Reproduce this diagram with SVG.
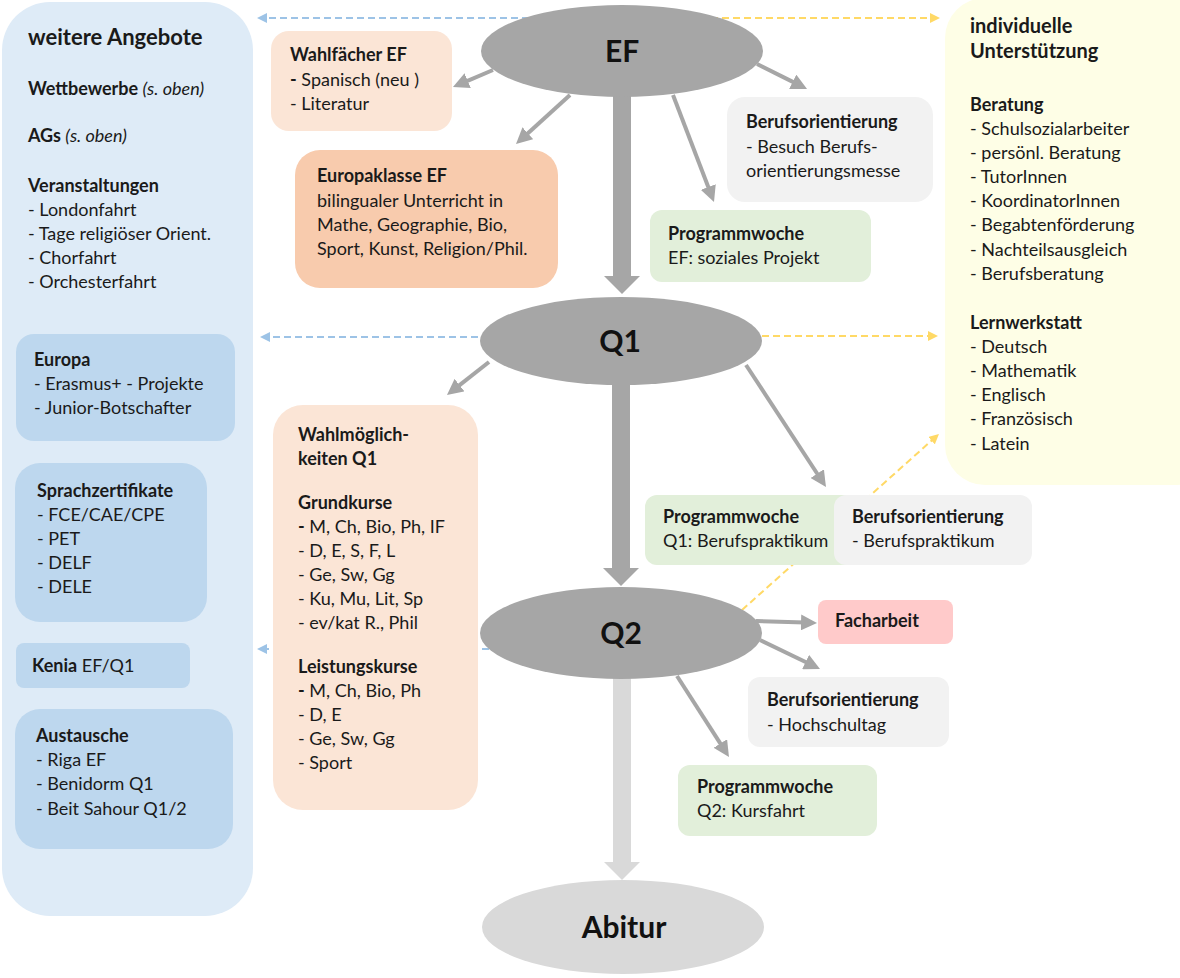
<svg xmlns="http://www.w3.org/2000/svg" width="1180" height="978" viewBox="0 0 1180 978">
<defs>
<style>
text{font-family:"Lato","Noto Sans","Liberation Sans",sans-serif;font-size:18px;fill:#1a1a1a}
.b{font-weight:bold}
.i{font-style:italic;font-weight:normal}
.h{font-size:22px;font-weight:bold}
.h2{font-size:20px;font-weight:bold}
.big{font-size:30px;font-weight:bold;fill:#111}
.thin{stroke:#a6a6a6;stroke-width:4;fill:none;marker-end:url(#ah)}
.blue{stroke:#9dc3e6;stroke-width:2;stroke-dasharray:7 4;fill:none;marker-end:url(#ahb)}
.yel{stroke:#ffd966;stroke-width:2;stroke-dasharray:7 4;fill:none;marker-end:url(#ahy)}
.peach{fill:#fbe5d6}
.grey{fill:#f2f2f2}
.green{fill:#e2efda}
.sub{fill:#bdd7ee}
</style>
<marker id="ah" markerUnits="userSpaceOnUse" markerWidth="16" markerHeight="16" refX="4" refY="8" orient="auto"><path d="M0,0 L16,8 L0,16 z" fill="#a6a6a6"/></marker>
<marker id="ahb" markerUnits="userSpaceOnUse" markerWidth="10" markerHeight="10" refX="2" refY="5" orient="auto"><path d="M0,0 L10,5 L0,10 z" fill="#9dc3e6"/></marker>
<marker id="ahy" markerUnits="userSpaceOnUse" markerWidth="10" markerHeight="10" refX="2" refY="5" orient="auto"><path d="M0,0 L10,5 L0,10 z" fill="#ffd966"/></marker>
</defs>
<rect width="1180" height="978" fill="#fff"/>

<g id="weitere-angebote">
<rect x="2" y="2" width="251" height="914" rx="48" fill="#deebf7"/>
<text x="28" y="45" class="h">weitere Angebote</text>
<text x="28" y="95" class="b">Wettbewerbe <tspan class="i">(s. oben)</tspan></text>
<text x="28" y="142" class="b">AGs <tspan class="i">(s. oben)</tspan></text>
<text x="28" y="192" class="b">Veranstaltungen</text>
<text x="28" y="216">- Londonfahrt</text>
<text x="28" y="240">- Tage religiöser Orient.</text>
<text x="28" y="264">- Chorfahrt</text>
<text x="28" y="288">- Orchesterfahrt</text>
</g>

<g id="individuelle-unterstuetzung">
<rect x="945" y="-2" width="270" height="487" rx="40" fill="#fefee6"/>
<text x="970" y="33" class="h2">individuelle</text>
<text x="970" y="58" class="h2">Unterstützung</text>
<text x="970" y="111" class="b">Beratung</text>
<text x="970" y="135">- Schulsozialarbeiter</text>
<text x="970" y="159">- persönl. Beratung</text>
<text x="970" y="183">- TutorInnen</text>
<text x="970" y="207">- KoordinatorInnen</text>
<text x="970" y="231">- Begabtenförderung</text>
<text x="970" y="256">- Nachteilsausgleich</text>
<text x="970" y="280">- Berufsberatung</text>
<text x="970" y="329" class="b">Lernwerkstatt</text>
<text x="970" y="353">- Deutsch</text>
<text x="970" y="377">- Mathematik</text>
<text x="970" y="401">- Englisch</text>
<text x="970" y="425">- Französisch</text>
<text x="970" y="450">- Latein</text>
</g>

<g id="connectors">
<line class="blue" x1="540" y1="18" x2="265" y2="18"/>
<line class="blue" x1="500" y1="337" x2="268" y2="337"/>
<line class="blue" x1="500" y1="649" x2="265" y2="649"/>
<line class="yel" x1="700" y1="18" x2="932" y2="18"/>
<line class="yel" x1="740" y1="336" x2="930" y2="336"/>
<line class="yel" x1="742" y1="610" x2="933" y2="439.3"/>
<line class="thin" x1="493" y1="70" x2="464" y2="82.3"/>
<line class="thin" x1="570" y1="95" x2="524.9" y2="135.9"/>
<line class="thin" x1="757" y1="64" x2="796.3" y2="83.6"/>
<line class="thin" x1="673" y1="95" x2="709.7" y2="190.8"/>
<line class="thin" x1="489" y1="362" x2="456.4" y2="387.6"/>
<line class="thin" x1="746" y1="365" x2="819.4" y2="477"/>
<line class="thin" x1="756" y1="621" x2="805" y2="622.6"/>
<line class="thin" x1="760" y1="640" x2="809.2" y2="663.8"/>
<line class="thin" x1="677" y1="676" x2="722.5" y2="746.9"/>
<polygon points="613,95 631,95 631,276 640,276 622,294 604,276 613,276" fill="#a6a6a6"/>
<polygon points="612,384 630,384 630,568 639,568 621,586 603,568 612,568" fill="#a6a6a6"/>
<polygon points="613,677 631,677 631,862 640,862 622,880 604,862 613,862" fill="#d9d9d9"/>
</g>

<g id="europa">
<rect x="16" y="334" width="219" height="107" rx="18" class="sub"/>
<text x="34" y="366" class="b">Europa</text>
<text x="34" y="390">- Erasmus+ - Projekte</text>
<text x="34" y="414">- Junior-Botschafter</text>
</g>
<g id="sprachzertifikate">
<rect x="15" y="463" width="192" height="159" rx="25" class="sub"/>
<text x="37" y="497" class="b">Sprachzertifikate</text>
<text x="37" y="521">- FCE/CAE/CPE</text>
<text x="37" y="545">- PET</text>
<text x="37" y="569">- DELF</text>
<text x="37" y="593">- DELE</text>
</g>
<g id="kenia">
<rect x="16" y="643" width="174" height="45" rx="8" class="sub"/>
<text x="32" y="672"><tspan class="b">Kenia</tspan> EF/Q1</text>
</g>
<g id="austausche">
<rect x="15" y="709" width="218" height="140" rx="25" class="sub"/>
<text x="36" y="742" class="b">Austausche</text>
<text x="36" y="766">- Riga EF</text>
<text x="36" y="790">- Benidorm Q1</text>
<text x="36" y="815">- Beit Sahour Q1/2</text>
</g>

<g id="wahlfaecher-ef">
<rect x="271" y="31" width="181" height="100" rx="18" class="peach"/>
<text x="290" y="61" class="b">Wahlfächer EF</text>
<text x="290" y="86"><tspan class="b">-</tspan> Spanisch (neu )</text>
<text x="290" y="110">- Literatur</text>
</g>
<g id="europaklasse-ef">
<rect x="295" y="150" width="263" height="138" rx="25" fill="#f8cbad"/>
<text x="317" y="182" class="b">Europaklasse EF</text>
<text x="317" y="207">bilingualer Unterricht in</text>
<text x="317" y="231">Mathe, Geographie, Bio,</text>
<text x="317" y="255">Sport, Kunst, Religion/Phil.</text>
</g>
<g id="berufsorientierung-ef">
<rect x="727" y="97" width="206" height="105" rx="18" class="grey"/>
<text x="746" y="128" class="b">Berufsorientierung</text>
<text x="746" y="153">- Besuch Berufs-</text>
<text x="746" y="177">orientierungsmesse</text>
</g>
<g id="programmwoche-ef">
<rect x="650" y="210" width="221" height="72" rx="12" class="green"/>
<text x="668" y="240" class="b">Programmwoche</text>
<text x="668" y="264">EF: soziales Projekt</text>
</g>

<g id="wahlmoeglichkeiten-q1">
<rect x="273" y="405" width="205" height="405" rx="30" class="peach"/>
<text x="298" y="441" class="b">Wahlmöglich-</text>
<text x="298" y="465" class="b">keiten Q1</text>
<text x="298" y="509" class="b">Grundkurse</text>
<text x="298" y="533"><tspan class="b">-</tspan> M, Ch, Bio, Ph, IF</text>
<text x="298" y="557">- D, E, S, F, L</text>
<text x="298" y="581">- Ge, Sw, Gg</text>
<text x="298" y="605">- Ku, Mu, Lit, Sp</text>
<text x="298" y="629">- ev/kat R., Phil</text>
<text x="298" y="673" class="b">Leistungskurse</text>
<text x="298" y="697"><tspan class="b">-</tspan> M, Ch, Bio, Ph</text>
<text x="298" y="721">- D, E</text>
<text x="298" y="745">- Ge, Sw, Gg</text>
<text x="298" y="769">- Sport</text>
</g>

<g id="programmwoche-q1">
<rect x="645" y="495" width="215" height="70" rx="12" class="green"/>
<text x="663" y="523" class="b">Programmwoche</text>
<text x="663" y="547">Q1: Berufspraktikum</text>
</g>
<g id="berufsorientierung-q1">
<rect x="834" y="495" width="198" height="70" rx="12" class="grey"/>
<text x="852" y="523" class="b">Berufsorientierung</text>
<text x="852" y="547">- Berufspraktikum</text>
</g>
<g id="facharbeit">
<rect x="818" y="600" width="135" height="44" rx="8" fill="#ffcaca"/>
<text x="835" y="627" class="b">Facharbeit</text>
</g>
<g id="berufsorientierung-q2">
<rect x="748" y="677" width="201" height="70" rx="12" class="grey"/>
<text x="767" y="706" class="b">Berufsorientierung</text>
<text x="767" y="731">- Hochschultag</text>
</g>
<g id="programmwoche-q2">
<rect x="678" y="765" width="199" height="71" rx="12" class="green"/>
<text x="697" y="793" class="b">Programmwoche</text>
<text x="697" y="817">Q2: Kursfahrt</text>
</g>

<g id="ef">
<ellipse cx="622" cy="51" rx="141" ry="46" fill="#a6a6a6"/>
<text x="622" y="62" class="big" text-anchor="middle">EF</text>
</g>
<g id="q1">
<ellipse cx="621" cy="341" rx="141" ry="44" fill="#a6a6a6"/>
<text x="620" y="352" class="big" text-anchor="middle">Q1</text>
</g>
<g id="q2">
<ellipse cx="621" cy="633" rx="141" ry="46" fill="#a6a6a6"/>
<text x="621" y="644" class="big" text-anchor="middle">Q2</text>
</g>
<g id="abitur">
<ellipse cx="623" cy="927" rx="141" ry="47" fill="#d9d9d9"/>
<text x="624" y="938" class="big" text-anchor="middle">Abitur</text>
</g>
</svg>
